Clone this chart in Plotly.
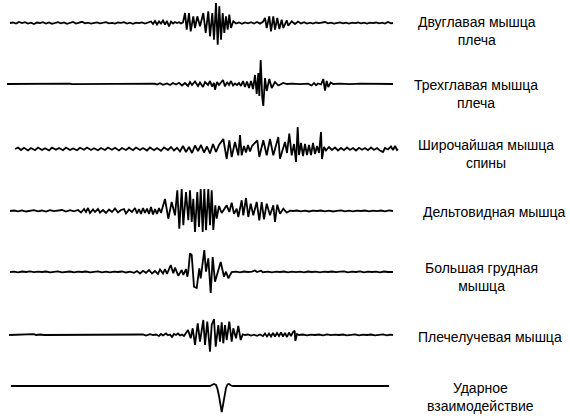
import plotly.graph_objects as go

# ---- data: (time sample, amplitude) ----
BICEPS = [(10,0),(13,0.5),(16,-0.5),(19,1),(22,0),(25,0.8),(28,-0.5),(31,0.3),(34,-1),(37,0.5),(40,0),(43,0.8),(46,-0.5),(49,0.5),(52,-0.8),(55,0.3),(58,0.8),(61,-0.3),(64,0.5),(67,-0.8),(70,0.2),(73,1),(76,-0.5),(79,0.5),(82,1.2),(85,-0.3),(88,0.3),(91,-0.6),(94,0.2),(97,0.6),(100,-0.4),(103,0.3),(106,0.8),(109,-0.4),(112,0.2),(115,-0.6),(118,0.5),(121,0.1),(124,0.9),(127,-0.5),(130,0.3),(133,-0.8),(136,0.4),(139,-0.2),(142,0.6),(145,-0.5),(148,0.4),
          (151,1.5),(153,-1),(155,2),(157,-1.5),(159,1.5),(161,-0.5),(163,2.5),(165,-1.5),(167,2),(169,-3.5),(171,1.5),(173,-0.5),(175,1),(177,0),(179,0.8),(181,-0.5),(183,0.5),
          (185,10),(186.7,-6.7),(189,10),(190.7,-8.3),(193.3,6.7),(195,-5),(197.3,6.7),(200,-3.3),(203.3,10),(205.7,-10),(208.3,11.7),(210,-13.3),(212.3,10),(214,-16.7),(216,20),(217.7,-21.7),(219.3,16.7),(221,-16.7),(222.7,10),(224.3,-10),(226,6.7),(227.7,-6.7),(229.3,8.3),(231,-5),(233.3,1.7),(236,-0.5),(239,0.5),(242,-0.8),(245,0.6),(248,-0.3),(251,0.8),(254,-0.5),(257,1),(260,-0.6),(263,1.2),
          (265,5),(266.7,-5),(269.3,6.7),(271,-8.3),(273.3,6.7),(275,-6.7),(277.3,5),(279.3,-6),(281.7,3.3),(283.3,-5),(286.7,2.7),(288.3,-2.7),(291.7,1.7),(295,-1),(298,1.5),(301,-0.5),(304,0.8),(307,-0.5),(310,0.3),(313,-0.6),(316,0.5),(319,-0.2),(322,0.4),(325,1),(328,-0.3),(331,0.3),(334,-0.6),(337,0.2),(340,0.6),(343,-0.4),(346,0.3),(349,-0.5),(352,0.4),(355,-0.2),(358,0.5),(361,-0.4),(364,0.3),(367,-0.6),(370,0.4),(373,-0.2),(376,0.5),(379,-0.3),(382,0.3),(385,-0.5),(388,1),(391,-0.3),(393,0)]

TRICEPS = [(7,0),(30,0.3),(32,-0.3),(50,0),(70,0.3),(72,-0.2),(100,0),(120,0.2),(122,-0.3),(150,0),(155,0.3),
           (157,-0.5),(160,0.8),(163,-0.8),(167,0.5),(170,-1),(173,1),(176,-0.5),(179,1.2),
           (182,-1.5),(185,1),(188,-2),(190,2),(192,-1),(195,2.5),(198,-2),(200,1.5),(203,-3),(205,2),(208,-1),(210,3),(212,-2.5),(214,1),(215,-5.7),(217,2),(219,-1),(221,1.5),(223,4),(225,-2.5),(227,2),(229,-1),(231,3),(233,-1.5),(235,0.5),(237,-1),(239,1),(241,-2),(243,3),(245,-3),(247,2.5),(249,-4),(251,3),(253,-5),
           (255,9),(256.7,-10),(258.3,11),(259.3,-12),(260.7,24),(262.3,-14),(263.3,-22),(265,6),(266.7,-7),(269.3,5),(271.7,-4),(275,2),(278.3,-1.5),(283.3,1),(287,0),(292,0.3),(300,-0.2),(308,0.3),
           (311.7,-1.5),(314,1),(316,-1.2),(318,0.5),(321,-0.5),(323.3,5),(325,-6.7),(326.7,3),(328.3,-3),(330.7,1.5),(333.3,0),(340,0.3),(350,-0.2),(360,0.3),(370,0),(380,0.3),(390,-0.3),(393,0)]

LATISSIMUS = [(15,0),(18,1.5),(21,-1),(24,1.2),(28,-1.5),(31,1),(35,-1.2),(38,1.5),(42,-1),(45,0.8),(49,-1.5),(52,1.3),(56,-0.8),(59,1),(63,-1.2),(66,1.5),(70,-1),(73,0.5),(77,-1.3),(80,1.2),(84,-0.8),(87,1.5),(91,-1),(94,0.8),(98,-1.3),(101,1),(105,-1),(108,1.5),(112,-0.8),(115,1.2),(119,-1.5),(122,1),(126,-1),(129,1.3),(133,-1.2),(136,1.5),(140,-1),(143,1),(147,-1.5),(150,1.5),(154,-1.2),(157,1),(161,-1.8),(164,1.5),(168,-1),(171,2),(174,-1.5),(177,1.2),
              (180,-2.5),(183,3),(186,-3),(189,2),(192,-4),(195,3.5),(198,-2),(201,4),(204,-3.5),(207,2.5),(210,-4.5),(213,5),(216,-3),(219,4),
              (223.3,10),(226.7,-10),(229.3,8.7),(231.7,-8),(235,7),(238.3,-6.3),(240,14),(241.7,-6.3),
              (244,3),(246,-3.5),(248,4),(250,-2.5),(252,3),
              (257.3,8.7),(259.3,-8),(263.3,8.7),(266.7,-6.3),(270,10),(273.3,-6.3),(278.3,12),(280,-9.7),(285,7),(287,-4),(289.3,15.3),(291.7,-6.3),(294,5),(296,-13),(297.7,22),(299,-6),(301,6),(303,-7),(305,5),(307,-6),(309,4),(311,-6),(313,6),(315,-5),(317,3),(319,-4),(321,17),(322,-10),(324,2),(326,-1.5),(329,2),(332,-1),(335,1.5),(338,-1.5),(341,1),(344,-1.2),(347,1.5),(350,-1),(353,1),(356,-1.5),(359,1.2),(362,-0.8),(365,1),(368,-1.2),(371,1.5),(374,-1),(377,1),(380,-1.5),(383,-3),(385,1),(388,-0.5),(391,2.5),(393,-1),(395,3),(397,-1),(398,0)]

DELTOID = [(10,0),(14,0.5),(18,-0.3),(22,0.6),(26,-0.5),(30,0.3),(34,0.8),(38,-0.3),(42,0.5),(46,-0.6),(50,0.8),(54,-0.2),(58,0.5),(62,1),(66,-0.5),(70,0.8),(74,-0.3),(78,1),
           (81,-1.5),(84,2),(86,-1),(88,3),(90,-2),(93,1.5),(95,-1),(98,2),(100,-1.5),(103,1),(106,-2),(109,1.5),(112,-1),(115,2.5),(118,-1.5),(121,1),(124,2),(126,-2.5),(129,1.5),(132,-1),(135,3),(137,-2.5),(139,2),(141,-3),(143,3),(145,-2),(147,2.5),(149,-3),(151,4),(153,-3.5),(155,2),(157,-3),(159,3),(161,-2),
           (165,12),(168.3,-7.7),(171.7,9),(175,-4.3),(177.3,20.7),(179.3,-17.7),(181.7,22),(183.3,-14.3),(186,19),(188.3,-9.3),(190,20.7),(191.7,-11),(193.3,12.3),(195,-21),(197.3,19),(199,-16),(200.7,22),(202.7,-21),(204.3,22),(206,-19.3),(208.3,22),(210,-14.3),(211.7,20.7),(213.3,-19),(215.3,5.7),(216.7,-7.7),(219,5),
           (221.7,-2),(226.7,5.7),(229.3,-1),(231.7,8.3),(234,-2.7),(236.7,2.3),(238.3,-6),(241.7,10.7),(243.3,-4.3),(246,13),(248.3,-6),(250.7,7.3),(253.3,-4.3),(256.7,9),(259.3,-9.3),(261.7,9),(264,-8.3),(266.7,7.3),(270,-4.3),(273.3,5.7),(275,-11),(277.3,6.3),(280,-2.7),(283.3,2.3),(286.7,-1.7),(290,0.3),(293,0),
           (297,0.5),(301,-0.3),(305,0.3),(309,-0.5),(313,0.4),(317,0),(321,0.5),(325,-0.3),(329,0.3),(333,-0.5),(337,0.2),(341,0.6),(345,-0.3),(349,0.4),(353,-0.4),(357,0.3),(361,0),(365,0.5),(369,-0.3),(373,0.4),(377,-0.2),(381,0.5),(385,-0.4),(389,0.6),(393,0)]

PECTORAL = [(10,0),(14,0.4),(18,-0.3),(22,0.5),(26,0),(30,0.6),(34,-0.2),(38,0.3),(42,0),(46,0.5),(50,-0.4),(54,0.3),(58,0.6),(62,-0.3),(66,0.2),(70,0.5),(74,-0.4),(78,0.4),(82,0),(86,0.5),(90,-0.3),(94,0.3),(98,0.6),(102,-0.3),(106,0.3),(110,-0.4),(114,0.4),(118,0),(122,0.5),(126,-0.5),(130,0.3),
            (134,-0.8),(137,1),(140,-1.5),(143,1.2),(146,-0.8),(149,2),(152,-1.5),(155,1),(158,-2),(160,2.5),(163,-1.5),(165,3),(167,-2),(170.7,7),(173.3,-1.3),(175,4.3),(178.3,-3.7),(181.7,2),(183.3,-3),(186,3),(187.3,-4.7),(188.3,0.3),
            (190,18.7),(191.7,17),(194,-14.7),(196.7,-16),(199.3,3.7),(200.7,-6.3),(204.3,22),(206,0.3),(208.3,13.7),(210.7,-21),(212.7,15),(215,-9.7),(220.7,10),(224,-4.7),(226,0.3),(228.3,-6.3),(231.7,0),
            (236,0.4),(240,-0.3),(244,0.5),(248,0),(252,0.4),(255,1.5),(257,0),(261,1.3),(263,-0.2),(268,0.4),(272,-0.3),(276,0.3),(280,0),(284,0.5),(288,-0.3),(292,0.4),(296,-0.2),(300,0.3),(304,-0.4),(308,0.5),(312,0),(316,0.3),(320,-0.3),(324,0.4),(328,0),(332,0.5),(336,-0.2),(340,0.3),(344,0.6),(348,-0.3),(352,0.4),(356,0),(360,0.6),(364,-0.4),(368,0.3),(372,0),(376,0.4),(380,-0.3),(384,0.5),(388,0),(393,0)]

BRACHIORADIALIS = [(9,0),(20,0.3),(30,0),(34,0.8),(36,0),(40,0.5),(44,0),(60,0),(78,0),(80,0.6),(82,0),(100,0),(120,0),(140,0),
                   (143,0.5),(146,-0.5),(150,0.8),(153,0),(156,0.5),(159,-1),(161,1),(163,-0.5),(166,1.5),(168,-0.3),(170,0.5),(172,-2),(174,1),(176,0),(178,1.5),(180,-0.5),(182,0.5),(184,-1),(186,1.5),
                   (188,5),(190.7,-3.3),(192.7,6.7),(195,-10),(197.7,11.7),(200,-6.7),(203.3,15),(205,-10),(207.3,13.3),(210,-16.7),(211.7,10),(214,16),(215.7,-11.7),(218.3,10),(220,-6.7),(221.7,12.7),(223.3,-8.3),(225,10),(226.7,-5),(229.3,13.3),(231.7,-6.7),(233.3,6.7),(236,-3.3),(238.3,9),(240.7,-5),(242.7,0.7),
                   (245,0),(248,0.5),(251,-0.5),(254,0.3),(257,-0.8),(260,0.5),(263,-1),(265,1.5),(267,-1.5),(269,1.5),(271,-1.5),(273,2),(275,-1.5),(277,2),(279,-1),(281,2.5),(283,-1.5),(285,2),(287,-2),(289,2.5),(291,-1),(293,3),(294.7,4.3),(295.3,-6),(297,1),(299,0),
                   (303,0.5),(307,-0.3),(311,0.4),(315,0),(319,0.5),(323,-0.3),(327,0.6),(331,-0.2),(335,0.4),(339,0),(343,0.5),(347,-0.4),(351,0.3),(355,0.6),(359,-0.3),(363,0.4),(367,0),(371,0.5),(375,-0.3),(379,0.4),(383,0.6),(387,-0.3),(390,0.3),(393,0)]

IMPACT = [(11,0),(210,0),(212,1),(214,2),(216,1),(217.5,-3),(219,-10),(220.5,-19),(221.7,-26),(223,-19),(224.5,-9),(226,-2),(227.5,1.5),(229,2),(231,0.5),(233,0),(389,0)]

SERIES = [BICEPS, TRICEPS, LATISSIMUS, DELTOID, PECTORAL, BRACHIORADIALIS, IMPACT]
LABELS = ["Двуглавая мышца<br>плеча", "Трехглавая мышца<br>плеча", "Широчайшая мышца<br>спины",
          "Дельтовидная мышца", "Большая грудная<br>мышца", "Плечелучевая мышца",
          "Ударное<br>взаимодействие"]

# ---- layout (positions / styles) ----
BASELINES = [23, 84, 149, 211, 272, 335, 386]
LABEL_X = [477, 476, 486, 494, 481, 490, 480]
LABEL_Y = [31.5, 93.5, 153.5, 212, 276.5, 337, 396.5]
W, H = 570, 420

fig = go.Figure()
for data, base in zip(SERIES, BASELINES):
    t = [p[0] for p in data]
    v = [p[1] - base for p in data]
    fig.add_trace(go.Scatter(x=t, y=v, mode="lines",
                             line=dict(color="black", width=1.8),
                             hoverinfo="skip", showlegend=False))

for txt, lx, ly in zip(LABELS, LABEL_X, LABEL_Y):
    fig.add_annotation(x=lx / W, y=1 - ly / H, xref="paper", yref="paper",
                       text=txt, showarrow=False, xanchor="center", yanchor="middle",
                       align="center",
                       font=dict(family="Arial, Liberation Sans, sans-serif", size=14, color="black"))

fig.update_layout(width=W, height=H, margin=dict(l=0, r=0, t=0, b=0),
                  paper_bgcolor="white", plot_bgcolor="white", showlegend=False)
fig.update_xaxes(range=[0, W], visible=False, fixedrange=True)
fig.update_yaxes(range=[-H, 0], visible=False, fixedrange=True)
fig.write_html("out.html", config={"displayModeBar": False},
               post_script="document.body.style.margin='0';document.body.style.overflow='hidden';")
